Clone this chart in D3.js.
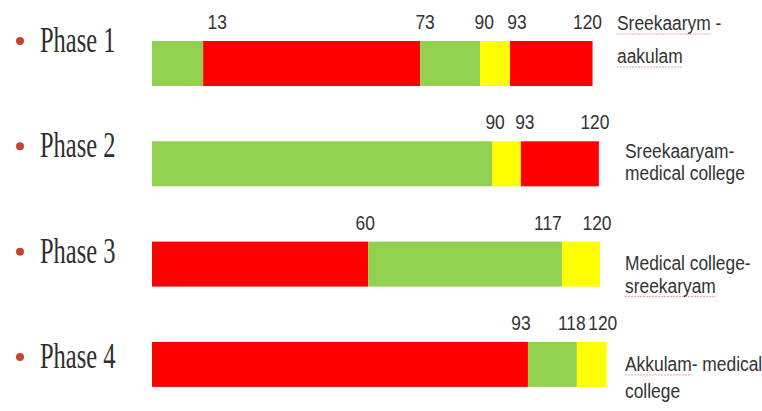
<!DOCTYPE html>
<html>
<head>
<meta charset="utf-8">
<script src="https://cdn.jsdelivr.net/npm/d3@7"></script>
<style>
  html, body { margin: 0; padding: 0; background: #ffffff; }
  svg { display: block; }
</style>
</head>
<body>
<svg id="chart" width="762" height="411"></svg>
<script>
// ---------------- DATA ----------------
const phases = ["Phase 1", "Phase 2", "Phase 3", "Phase 4"];

// status of each segment, left to right
const segmentStatus = [
  ["green", "red", "green", "yellow", "red"],
  ["green", "yellow", "red"],
  ["red", "green", "yellow"],
  ["red", "green", "yellow"]
];

// segment end points as drawn in the picture (chart units, 0–120 axis)
const segmentEnds = [
  [13.7, 71.8, 87.9, 95.9, 118.0],
  [91.1, 98.8, 119.7],
  [57.9, 109.8, 120.0],
  [100.7, 113.8, 121.8]
];

// printed labels above each segment boundary
const boundaryLabels = [
  ["13", "73", "90", "93", "120"],
  ["90", "93", "120"],
  ["60", "117", "120"],
  ["93", "118", "120"]
];

// route notes at the right of each bar
const routeNotes = [
  ["Sreekaarym -", "aakulam"],
  ["Sreekaaryam-", "medical college"],
  ["Medical college-", "sreekaryam"],
  ["Akkulam- medical", "college"]
];
// words marked by the spell-checker underline
const flaggedWords = [
  ["Sreekaarym", "aakulam"],
  [],
  ["sreekaryam"],
  ["Akkulam"]
];

// ---------------- LAYOUT / STYLE ----------------
const statusColor = { green: "#92d050", red: "#ff0000", yellow: "#ffff00" };
const labelNudge = [[14, 5, 4, 7, -5], [3, 4, -4], [-3, -14, -3], [-7, -5, -4]];
const noteX = [617, 625, 625, 625];
const noteDy = [-11, 17, 28, 29];
const noteGap = [33, 22, 23, 27];
const sansFont = "'Liberation Sans', Arial, sans-serif";
const serifFont = "'Liberation Serif', 'Times New Roman', serif";
const sansScale = 0.87;
const textColor = "#333333";

const svg = d3.select("#chart");

const x = d3.scaleLinear().domain([0, 120]).range([152, 600]);
const y = d3.scaleBand().domain(phases).range([41, 386.9]).paddingInner(0.5513).paddingOuter(0);
const yLabel = d3.scalePoint().domain(phases).range([52, 368]);

// phase labels with bullets
const lab = svg.append("g").selectAll("g").data(phases).join("g");
lab.append("circle")
  .attr("cx", 20)
  .attr("cy", d => yLabel(d) - 11)
  .attr("r", 4)
  .attr("fill", "#c2452d");
lab.append("text")
  .attr("transform", d => `translate(40,${yLabel(d)}) scale(0.7,1)`)
  .attr("font-family", serifFont)
  .attr("font-size", 35)
  .attr("fill", "#2e2e2e")
  .text(d => d);

// bars
phases.forEach((p, i) => {
  const ends = segmentEnds[i];
  const segs = ends.map((e, j) => ({
    start: j === 0 ? 0 : ends[j - 1],
    end: e,
    status: segmentStatus[i][j],
    label: boundaryLabels[i][j],
    nudge: labelNudge[i][j]
  }));
  const g = svg.append("g");
  g.selectAll("rect").data(segs).join("rect")
    .attr("x", d => x(d.start))
    .attr("y", y(p))
    .attr("width", d => x(d.end) - x(d.start))
    .attr("height", y.bandwidth())
    .attr("fill", d => statusColor[d.status]);

  g.selectAll("text.lbl").data(segs).join("text")
    .attr("class", "lbl")
    .attr("transform", d => `translate(${x(d.end) + d.nudge},${y(p) - 12}) scale(${sansScale},1)`)
    .attr("text-anchor", "middle")
    .attr("font-family", sansFont)
    .attr("font-size", 20)
    .attr("fill", textColor)
    .text(d => d.label);

  // route notes
  routeNotes[i].forEach((line, k) => {
    const by = y(p) + noteDy[i] + k * noteGap[i];
    const t = g.append("text")
      .attr("transform", `translate(${noteX[i]},${by}) scale(${sansScale},1)`)
      .attr("font-family", sansFont)
      .attr("font-size", 20)
      .attr("fill", textColor)
      .text(line);
    flaggedWords[i].forEach(w => {
      const idx = line.indexOf(w);
      if (idx < 0) return;
      const node = t.node();
      const x0 = idx === 0 ? 0 : node.getSubStringLength(0, idx);
      const wl = node.getSubStringLength(idx, w.length);
      g.append("line")
        .attr("x1", noteX[i] + x0 * sansScale)
        .attr("x2", noteX[i] + (x0 + wl) * sansScale)
        .attr("y1", by + 4)
        .attr("y2", by + 4)
        .attr("stroke", "#e07a7a")
        .attr("stroke-width", 1)
        .attr("stroke-dasharray", "2,1")
        .attr("opacity", 0.7);
    });
  });
});
</script>
</body>
</html>
